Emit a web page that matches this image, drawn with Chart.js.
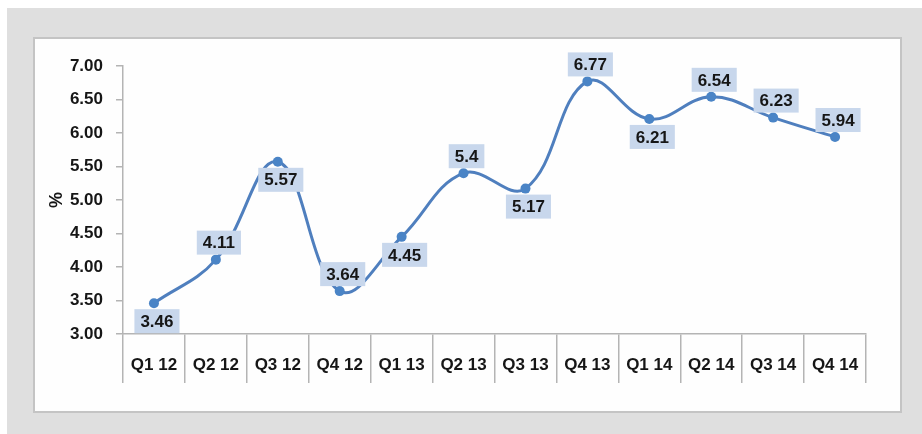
<!DOCTYPE html>
<html>
<head>
<meta charset="utf-8">
<script src="https://cdn.jsdelivr.net/npm/chart.js@4.4.1/dist/chart.umd.min.js"></script>
<style>
  html, body { margin: 0; padding: 0; background: #ffffff; }
  body { width: 922px; height: 434px; position: relative; overflow: hidden; font-family: "Liberation Sans", Arial, sans-serif; }
  #bg { position: absolute; left: 7px; top: 8px; width: 915px; height: 426px; background: #dfdfdf; }
  #panel { position: absolute; left: 33px; top: 37px; width: 865px; height: 372px; background: #fefefe; border: 2px solid #c4c4c4; }
  #wrap { position: absolute; left: 0; top: 0; width: 865px; height: 372px; }
</style>
</head>
<body>
<div id="bg"></div>
<div id="panel"><div id="wrap"><canvas id="c" width="865" height="372"></canvas></div></div>
<script>
const categories = ['Q1 12','Q2 12','Q3 12','Q4 12','Q1 13','Q2 13','Q3 13','Q4 13','Q1 14','Q2 14','Q3 14','Q4 14'];
const values = [3.46, 4.11, 5.57, 3.64, 4.45, 5.4, 5.17, 6.77, 6.21, 6.54, 6.23, 5.94];
const valueLabels = ['3.46','4.11','5.57','3.64','4.45','5.4','5.17','6.77','6.21','6.54','6.23','5.94'];
const labelAlign = ['below','above','below','above','below','above','below','above','below','above','above','above'];
const yMin = 3, yMax = 7, yStep = 0.5;

const FONT = '"Liberation Sans", Arial, sans-serif';

const boxLabels = {
  id: 'boxLabels',
  afterDatasetsDraw(chart) {
    const ctx = chart.ctx;
    const meta = chart.getDatasetMeta(0);
    ctx.save();
    ctx.font = 'bold 17px ' + FONT;
    ctx.textAlign = 'center';
    ctx.textBaseline = 'middle';
    meta.data.forEach((pt, i) => {
      const txt = valueLabels[i];
      const w = ctx.measureText(txt).width + 12;
      const h = 24;
      const cy = labelAlign[i] === 'above' ? pt.y - 17 : pt.y + 18;
      const cx = pt.x + 3;
      ctx.fillStyle = '#c8d7ec';
      ctx.fillRect(cx - w / 2, cy - h / 2, w, h);
      ctx.fillStyle = '#161616';
      ctx.fillText(txt, cx, cy + 1);
    });
    ctx.restore();
  }
};

new Chart(document.getElementById('c'), {
  type: 'line',
  data: {
    labels: categories,
    datasets: [{
      data: values,
      borderColor: '#4f7fbe',
      backgroundColor: '#4a84c6',
      borderWidth: 3,
      pointRadius: 5,
      pointHoverRadius: 5,
      pointBorderWidth: 0,
      tension: 0.4,
      fill: false
    }]
  },
  options: {
    responsive: false,
    animation: false,
    events: [],
    layout: { padding: { top: 27, right: 34, bottom: 0, left: 0 } },
    plugins: { legend: { display: false }, tooltip: { enabled: false } },
    scales: {
      x: {
        offset: true,
        grid: { offset: true, drawOnChartArea: false, drawTicks: true, tickLength: 49, color: '#b4b4b4', lineWidth: 1.5 },
        border: { display: true, color: '#b4b4b4', width: 1.5 },
        ticks: { color: '#161616', font: { family: FONT, size: 17, weight: 'bold' }, padding: -28, maxRotation: 0, autoSkip: false },
        afterFit(s) { s.height = 77; }
      },
      y: {
        min: yMin, max: yMax,
        grid: { drawOnChartArea: false, drawTicks: true, tickLength: 7, color: '#b4b4b4', lineWidth: 1.5 },
        border: { display: true, color: '#b4b4b4', width: 1.5 },
        ticks: { stepSize: yStep, color: '#161616', font: { family: FONT, size: 17, weight: 'bold' }, padding: 13,
                 callback: v => Number(v).toFixed(2) },
        title: { display: true, text: '%', color: '#161616', font: { family: FONT, size: 18, weight: 'bold' }, padding: { top: 11, bottom: 0 } },
        afterFit(s) { s.width = 88; }
      }
    }
  },
  plugins: [boxLabels]
});
</script>
</body>
</html>
